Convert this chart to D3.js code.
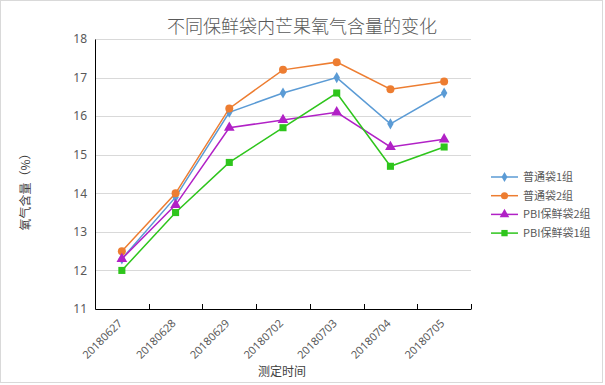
<!DOCTYPE html>
<html>
<head>
<meta charset="utf-8">
<script src="https://cdn.jsdelivr.net/npm/d3@7"></script>
<style>
  body { margin: 0; background: #fff; }
  svg { font-family: "Noto Sans CJK SC", "Noto Sans", sans-serif; }
</style>
</head>
<body>
<div id="chart"></div>
<script>
const dates = ['20180627', '20180628', '20180629', '20180702', '20180703', '20180704', '20180705']
const yTicks = [11, 12, 13, 14, 15, 16, 17, 18]

const seriesNames = ['普通袋1组', '普通袋2组', 'PBI保鲜袋2组', 'PBI保鲜袋1组']
const bag1 = [12.3, 13.9, 16.1, 16.6, 17.0, 15.8, 16.6]
const bag2 = [12.5, 14.0, 16.2, 17.2, 17.4, 16.7, 16.9]
const pbi2 = [12.3, 13.7, 15.7, 15.9, 16.1, 15.2, 15.4]
const pbi1 = [12.0, 13.5, 14.8, 15.7, 16.6, 14.7, 15.2]

const colors = ['#5b9bd5', '#ed7d31', '#b121c6', '#2ec51c']
const symbols = [d3.symbolDiamond, d3.symbolCircle, d3.symbolTriangle, d3.symbolSquare]
const series = [bag1, bag2, pbi2, pbi1]

const W = 605, H = 385
const margin = { top: 39, left: 95, right: 134, bottom: 76 }
const width = W - margin.left - margin.right
const height = H - margin.top - margin.bottom

const root = d3.select('#chart')
  .append('svg')
  .attr('width', W)
  .attr('height', H)

// outer frame
root.append('rect')
  .attr('x', 0.5).attr('y', 0.5)
  .attr('width', W - 3).attr('height', H - 3)
  .attr('fill', 'white')
  .attr('stroke', '#d9d9d9')

root.append('text')
  .attr('x', 302).attr('y', 33)
  .attr('text-anchor', 'middle')
  .attr('font-size', 18)
  .attr('font-weight', 300)
  .attr('fill', '#595959')
  .text('不同保鲜袋内芒果氧气含量的变化')

const svg = root.append('g')
  .attr('transform', 'translate(' + margin.left + ',' + margin.top + ')')

const xBand = d3.scaleBand().domain(dates).range([0, width])
const xPos = d => xBand(d) + xBand.bandwidth() / 2

const y = d3.scaleLinear().domain([11, 18]).range([height, 0])

// gridlines
svg.selectAll('.grid')
  .data(yTicks.slice(1))
  .enter()
  .append('line')
  .attr('x1', 0).attr('x2', width)
  .attr('y1', d => Math.round(y(d)) + 0.5)
  .attr('y2', d => Math.round(y(d)) + 0.5)
  .attr('stroke', '#d9d9d9')

// y axis
const yAxis = d3.axisLeft(y).tickValues(yTicks).tickSize(0).tickPadding(8).tickFormat(d3.format('d'))
svg.append('g')
  .attr('class', 'y-axis')
  .call(yAxis)
svg.select('.y-axis path').attr('stroke', '#000')
svg.selectAll('.y-axis text').attr('fill', '#595959').attr('font-size', 12)
  .attr('font-family', '"Noto Sans", sans-serif')

// x axis
const xAxis = d3.axisBottom(xBand).tickSize(0).tickPadding(0)
const gx = svg.append('g')
  .attr('class', 'x-axis')
  .attr('transform', 'translate(0,' + height + ')')
  .call(xAxis)
gx.select('path').attr('stroke', '#000')
gx.selectAll('text')
  .attr('fill', '#595959')
  .attr('font-size', 11)
  .attr('font-family', '"Noto Sans", sans-serif')
  .attr('text-anchor', 'end')
  .attr('dy', 0)
  .attr('transform', 'translate(1,15) rotate(-45)')

// inward ticks at band edges
const edges = dates.map(d => xBand(d)).concat([width])
gx.selectAll('.edge')
  .data(edges.slice(1))
  .enter()
  .append('line')
  .attr('x1', d => Math.round(d) + 0.5)
  .attr('x2', d => Math.round(d) + 0.5)
  .attr('y1', 0).attr('y2', -5)
  .attr('stroke', '#000')

// lines and markers
const line = d3.line()
  .x((d, i) => xPos(dates[i]))
  .y(d => y(d))

series.forEach((vals, k) => {
  svg.append('path')
    .datum(vals)
    .attr('d', line)
    .attr('fill', 'none')
    .attr('stroke', colors[k])
    .attr('stroke-width', 1.5)

  svg.selectAll('.m' + k)
    .data(vals)
    .enter()
    .append('path')
    .attr('d', d3.symbol().type(symbols[k]).size(k === 0 ? 36 : 50))
    .attr('transform', (d, i) => 'translate(' + xPos(dates[i]) + ',' + y(d) + ')')
    .attr('fill', colors[k])
})

// axis titles
root.append('text')
  .attr('transform', 'translate(30,189) rotate(-90)')
  .attr('text-anchor', 'middle')
  .attr('font-size', 12)
  .attr('fill', '#404040')
  .text('氧气含量（%）')

root.append('text')
  .attr('x', 282).attr('y', 376)
  .attr('text-anchor', 'middle')
  .attr('font-size', 12)
  .attr('fill', '#404040')
  .text('测定时间')

// legend
const legend = root.append('g').attr('transform', 'translate(491,177)')
seriesNames.forEach((name, k) => {
  const g = legend.append('g').attr('transform', 'translate(0,' + k * 18.7 + ')')
  g.append('line')
    .attr('x1', 0).attr('x2', 27)
    .attr('stroke', colors[k]).attr('stroke-width', 1.5)
  g.append('path')
    .attr('d', d3.symbol().type(symbols[k]).size(k === 0 ? 30 : 40))
    .attr('transform', 'translate(13.5,0)')
    .attr('fill', colors[k])
  g.append('text')
    .attr('x', 32).attr('y', 4)
    .attr('font-size', 11)
    .attr('fill', '#595959')
    .text(name)
})
</script>
</body>
</html>
